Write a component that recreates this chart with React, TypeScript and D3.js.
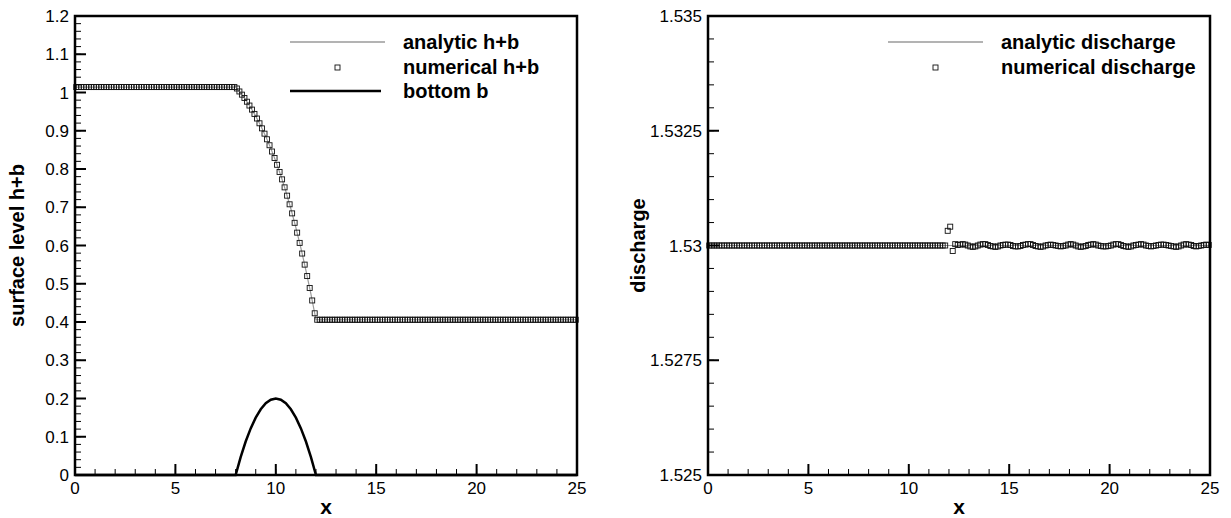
import React from "react";
import * as d3 from "d3";

const FONT = "'Liberation Sans', Arial, Helvetica, sans-serif";
const WIDTH = 1231;
const HEIGHT = 518;
const TOP = 16;
const PLOT_W = 502;
const PLOT_H = 459;
const LEFT_PANEL = 75;
const RIGHT_PANEL = 708;

// shared x axis
const xTickValues = [0, 5, 10, 15, 20, 25];
const xTickLabels = ["0", "5", "10", "15", "20", "25"];

const surfaceTicks = [0, 0.1, 0.2, 0.3, 0.4, 0.5, 0.6, 0.7, 0.8, 0.9, 1, 1.1, 1.2];
const surfaceTickLabels = ["0", "0.1", "0.2", "0.3", "0.4", "0.5", "0.6", "0.7", "0.8", "0.9", "1", "1.1", "1.2"];
const dischargeTicks = [1.525, 1.5275, 1.53, 1.5325, 1.535];
const dischargeTickLabels = ["1.525", "1.5275", "1.53", "1.5325", "1.535"];

// analytic solution sampled over the hump
const analyticX = [0, 8, 8.25, 8.5, 8.75, 9, 9.25, 9.5, 9.75, 10, 10.25, 10.5, 10.75, 11, 11.25, 11.5, 11.75, 12, 25];
const analyticSurface = [
  1.0142, 1.0142, 0.9987, 0.9808, 0.9607, 0.9382, 0.913, 0.8853, 0.8539, 0.8202,
  0.7829, 0.7414, 0.6961, 0.6467, 0.5931, 0.5352, 0.4729, 0.4059, 0.4059,
];
const bottomB = [
  0, 0, 0.0469, 0.0875, 0.1219, 0.15, 0.1719, 0.1875, 0.1969, 0.2,
  0.1969, 0.1875, 0.1719, 0.15, 0.1219, 0.0875, 0.0469, 0, 0,
];
const analyticDischargeX = [0, 25];
const analyticDischarge = [1.53, 1.53];

// numerical results, one value per cell (200 cells of width 0.125)
const CELL = 0.125;
const numericalSurface = [
  // x < 8
  1.0142, 1.0142, 1.0142, 1.0142, 1.0142, 1.0142, 1.0142, 1.0142, 1.0142, 1.0142, 1.0142, 1.0142, 1.0142, 1.0142, 1.0142, 1.0142,
  1.0142, 1.0142, 1.0142, 1.0142, 1.0142, 1.0142, 1.0142, 1.0142, 1.0142, 1.0142, 1.0142, 1.0142, 1.0142, 1.0142, 1.0142, 1.0142,
  1.0142, 1.0142, 1.0142, 1.0142, 1.0142, 1.0142, 1.0142, 1.0142, 1.0142, 1.0142, 1.0142, 1.0142, 1.0142, 1.0142, 1.0142, 1.0142,
  1.0142, 1.0142, 1.0142, 1.0142, 1.0142, 1.0142, 1.0142, 1.0142, 1.0142, 1.0142, 1.0142, 1.0142, 1.0142, 1.0142, 1.0142, 1.0142,
  // over the hump
  1.0105, 1.0027, 0.9944, 0.9855, 0.9759, 0.9659, 0.9553, 0.944, 0.932, 0.9195, 0.9063, 0.8924, 0.8777, 0.8621, 0.8457, 0.8288,
  0.811, 0.7923, 0.7729, 0.752, 0.7303, 0.7077, 0.684, 0.6593, 0.6336, 0.6068, 0.579, 0.55, 0.5201, 0.4888, 0.4563, 0.4228,
  // x > 12
  0.4059, 0.4059, 0.4059, 0.4059, 0.4059, 0.4059, 0.4059, 0.4059, 0.4059, 0.4059, 0.4059, 0.4059, 0.4059, 0.4059, 0.4059, 0.4059,
  0.4059, 0.4059, 0.4059, 0.4059, 0.4059, 0.4059, 0.4059, 0.4059, 0.4059, 0.4059, 0.4059, 0.4059, 0.4059, 0.4059, 0.4059, 0.4059,
  0.4059, 0.4059, 0.4059, 0.4059, 0.4059, 0.4059, 0.4059, 0.4059, 0.4059, 0.4059, 0.4059, 0.4059, 0.4059, 0.4059, 0.4059, 0.4059,
  0.4059, 0.4059, 0.4059, 0.4059, 0.4059, 0.4059, 0.4059, 0.4059, 0.4059, 0.4059, 0.4059, 0.4059, 0.4059, 0.4059, 0.4059, 0.4059,
  0.4059, 0.4059, 0.4059, 0.4059, 0.4059, 0.4059, 0.4059, 0.4059, 0.4059, 0.4059, 0.4059, 0.4059, 0.4059, 0.4059, 0.4059, 0.4059,
  0.4059, 0.4059, 0.4059, 0.4059, 0.4059, 0.4059, 0.4059, 0.4059, 0.4059, 0.4059, 0.4059, 0.4059, 0.4059, 0.4059, 0.4059, 0.4059,
  0.4059, 0.4059, 0.4059, 0.4059, 0.4059, 0.4059, 0.4059, 0.4059,
];
const numericalDischarge = [
  1.53, 1.53, 1.53, 1.53, 1.53, 1.53, 1.53, 1.53, 1.53, 1.53, 1.53, 1.53, 1.53, 1.53, 1.53, 1.53,
  1.53, 1.53, 1.53, 1.53, 1.53, 1.53, 1.53, 1.53, 1.53, 1.53, 1.53, 1.53, 1.53, 1.53, 1.53, 1.53,
  1.53, 1.53, 1.53, 1.53, 1.53, 1.53, 1.53, 1.53, 1.53, 1.53, 1.53, 1.53, 1.53, 1.53, 1.53, 1.53,
  1.53, 1.53, 1.53, 1.53, 1.53, 1.53, 1.53, 1.53, 1.53, 1.53, 1.53, 1.53, 1.53, 1.53, 1.53, 1.53,
  1.53, 1.53, 1.53, 1.53, 1.53, 1.53, 1.53, 1.53, 1.53, 1.53, 1.53, 1.53, 1.53, 1.53, 1.53, 1.53,
  1.53, 1.53, 1.53, 1.53, 1.53, 1.53, 1.53, 1.53, 1.53, 1.53, 1.53, 1.53, 1.53, 1.53, 1.53,
  // end of the hump
  1.53032, 1.53041, 1.52988, 1.53003, 1.53001,
  // small oscillations downstream
  1.53002, 1.53003, 1.53002, 1.53, 1.52998, 1.52997, 1.52998, 1.53, 1.53002, 1.53003, 1.53003, 1.53001,
  1.52999, 1.52998, 1.52997, 1.52998, 1.53, 1.53001, 1.53002, 1.53002, 1.53001, 1.52999, 1.52998, 1.52998,
  1.52999, 1.53001, 1.53002, 1.53003, 1.53003, 1.53001, 1.52999, 1.52998, 1.52997, 1.52998, 1.53, 1.53001,
  1.53002, 1.53001, 1.53, 1.52999, 1.52998, 1.52999, 1.53, 1.53002, 1.53003, 1.53002, 1.53, 1.52998,
  1.52997, 1.52998, 1.52999, 1.53001, 1.53002, 1.53003, 1.53002, 1.53, 1.52999, 1.52998, 1.52998, 1.52999,
  1.53, 1.53002, 1.53003, 1.53003, 1.53001, 1.52999, 1.52998, 1.52997, 1.52998, 1.53, 1.53001, 1.53002,
  1.53003, 1.53002, 1.53, 1.52999, 1.52998, 1.52999, 1.53, 1.53001, 1.53002, 1.53002, 1.53001, 1.53,
  1.52999, 1.52998, 1.52997, 1.52998, 1.53, 1.53002, 1.53003, 1.53002, 1.53001, 1.52999, 1.52998, 1.52999, 1.53, 1.53001, 1.53002, 1.53001,
];
// cell centres of the mesh
const cellCenters = numericalSurface.map((_, i) => (i + 0.5) * CELL);

const MARKER = 5;
const ANALYTIC_COLOR = "#9a9a9a";

type Scale = d3.ScaleLinear<number, number>;

const Axes = ({ x, y, yTicks, yLabels, yMinor, title, titleX }: {
  x: Scale; y: Scale; yTicks: number[]; yLabels: string[]; yMinor: number; title: string; titleX: number;
}) => {
  const [x0, x1] = x.range();
  const [yb, yt] = y.range();
  return (
    <g>
      {x.ticks(25).map((t) => (
        <line key={"xm" + t} x1={x(t)} x2={x(t)} y1={yb} y2={yb - 6} stroke="#000" strokeWidth={1} />
      ))}
      {xTickValues.map((t, i) => (
        <g key={"x" + t}>
          <line x1={x(t)} x2={x(t)} y1={yb} y2={yb - 11} stroke="#000" strokeWidth={2} />
          <text x={x(t)} y={yb + 19} textAnchor="middle" fontSize={17}>{xTickLabels[i]}</text>
        </g>
      ))}
      {y.ticks(yMinor).map((t) => (
        <line key={"ym" + t} x1={x0} x2={x0 + 6} y1={y(t)} y2={y(t)} stroke="#000" strokeWidth={1} />
      ))}
      {yTicks.map((t, i) => (
        <g key={"y" + t}>
          <line x1={x0} x2={x0 + 11} y1={y(t)} y2={y(t)} stroke="#000" strokeWidth={2} />
          <text x={x0 - 6} y={y(t) + 6} textAnchor="end" fontSize={17}>{yLabels[i]}</text>
        </g>
      ))}
      <rect x={x0} y={yt} width={x1 - x0} height={yb - yt} fill="none" stroke="#000" strokeWidth={2.5} />
      <text x={(x0 + x1) / 2} y={514} textAnchor="middle" fontSize={21} fontWeight="bold">x</text>
      <text
        transform={`translate(${titleX},${(yb + yt) / 2}) rotate(-90)`}
        textAnchor="middle"
        fontSize={20}
        fontWeight="bold"
      >
        {title}
      </text>
    </g>
  );
};

const Square = ({ cx, cy }: { cx: number; cy: number }) => (
  <rect x={cx - MARKER / 2} y={cy - MARKER / 2} width={MARKER} height={MARKER} fill="none" stroke="#111" strokeWidth={0.9} />
);

const Legend = ({ left, lineX0, lineX1, textX, items }: {
  left: number; lineX0: number; lineX1: number; textX: number;
  items: { label: string; kind: "analytic" | "marker" | "bottom" }[];
}) => (
  <g>
    {items.map((it, i) => {
      const yy = 42 + i * 24.5;
      return (
        <g key={it.label}>
          {it.kind === "analytic" && (
            <line x1={left + lineX0} x2={left + lineX1} y1={yy} y2={yy} stroke={ANALYTIC_COLOR} strokeWidth={1.5} />
          )}
          {it.kind === "bottom" && (
            <line x1={left + lineX0} x2={left + lineX1 - 4} y1={yy} y2={yy} stroke="#000" strokeWidth={2.5} />
          )}
          {it.kind === "marker" && <Square cx={left + (lineX0 + lineX1) / 2} cy={yy + 1} />}
          <text x={left + textX} y={yy + 7} fontSize={20} fontWeight="bold">{it.label}</text>
        </g>
      );
    })}
  </g>
);

export default function App() {
  const xL = d3.scaleLinear().domain([0, 25]).range([LEFT_PANEL, LEFT_PANEL + PLOT_W]);
  const yL = d3.scaleLinear().domain([0, 1.2]).range([TOP + PLOT_H, TOP]);
  const xR = d3.scaleLinear().domain([0, 25]).range([RIGHT_PANEL, RIGHT_PANEL + PLOT_W]);
  const yR = d3.scaleLinear().domain([1.525, 1.535]).range([TOP + PLOT_H, TOP]);

  const surfaceLine = d3.line<number>().x((_, i) => xL(analyticX[i])).y((d) => yL(d));
  const dischargeLine = d3.line<number>().x((_, i) => xR(analyticDischargeX[i])).y((d) => yR(d));

  return (
    <svg
      width={WIDTH}
      height={HEIGHT}
      style={{ position: "absolute", left: 0, top: 0, background: "#fff" }}
      fontFamily={FONT}
    >
      {/* left panel: surface level */}
      <path d={surfaceLine(analyticSurface) || ""} fill="none" stroke={ANALYTIC_COLOR} strokeWidth={1.2} />
      {numericalSurface.map((v, i) => (
        <Square key={"s" + i} cx={xL(cellCenters[i])} cy={yL(v)} />
      ))}
      <path d={surfaceLine(bottomB) || ""} fill="none" stroke="#000" strokeWidth={2.5} />
      <Axes
        x={xL}
        y={yL}
        yTicks={surfaceTicks}
        yLabels={surfaceTickLabels}
        yMinor={60}
        title="surface level h+b"
        titleX={24}
      />
      <Legend
        left={LEFT_PANEL}
        lineX0={215}
        lineX1={310}
        textX={328}
        items={[
          { label: "analytic h+b", kind: "analytic" },
          { label: "numerical h+b", kind: "marker" },
          { label: "bottom b", kind: "bottom" },
        ]}
      />

      {/* right panel: discharge */}
      <path d={dischargeLine(analyticDischarge) || ""} fill="none" stroke={ANALYTIC_COLOR} strokeWidth={1.2} />
      {numericalDischarge.map((v, i) => (
        <Square key={"q" + i} cx={xR(cellCenters[i])} cy={yR(v)} />
      ))}
      <Axes
        x={xR}
        y={yR}
        yTicks={dischargeTicks}
        yLabels={dischargeTickLabels}
        yMinor={20}
        title="discharge"
        titleX={645}
      />
      <Legend
        left={RIGHT_PANEL}
        lineX0={180}
        lineX1={275}
        textX={293}
        items={[
          { label: "analytic discharge", kind: "analytic" },
          { label: "numerical discharge", kind: "marker" },
        ]}
      />
    </svg>
  );
}
